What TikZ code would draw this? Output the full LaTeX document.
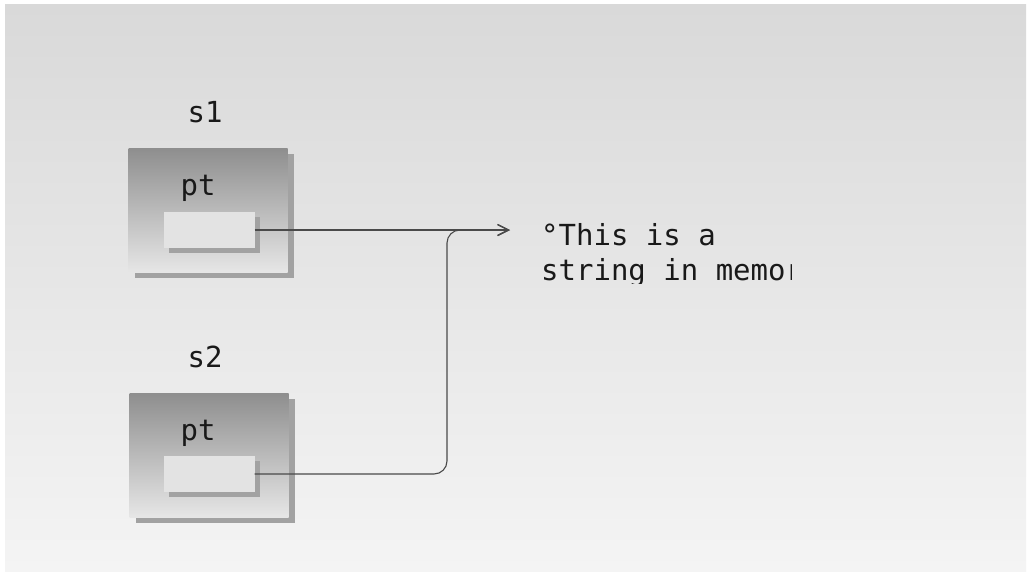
\documentclass[tikz,border=0pt]{standalone}
\usepackage{fontspec}
\setmonofont{DejaVu Sans Mono}
\usepackage{tikz}
\usetikzlibrary{arrows.meta, shadows, calc}
\definecolor{bgtop}{HTML}{D9D9D9}
\definecolor{bgbot}{HTML}{F4F4F4}
\definecolor{facetop}{HTML}{8E8E8E}
\definecolor{facebot}{HTML}{E6E6E6}
\definecolor{edge}{HTML}{A2A2A2}
\definecolor{cell}{HTML}{E3E3E3}
\definecolor{wire}{HTML}{4A4A4A}
\tikzset{
  structbox/.style={
    top color=facetop, bottom color=facebot, draw=none,
    minimum width=159pt, minimum height=124pt,
    drop shadow={shadow xshift=6pt, shadow yshift=-6pt, fill=edge, opacity=1}
  },
  ptrcell/.style={
    fill=cell, draw=none,
    minimum width=91pt, minimum height=36pt,
    drop shadow={shadow xshift=5pt, shadow yshift=-5pt, fill=edge, opacity=1}
  },
  lbl/.style={font=\fontsize{29}{35}\selectfont\ttfamily, text=black!90, inner sep=0pt},
  link/.style={draw=wire, line width=1.1pt, -{Straight Barb[length=11pt, width=11pt, line width=1.3pt]}}
}

\begin{document}
\begin{tikzpicture}[x=1pt, y=-1pt]
%% Background
\useasboundingbox (0,0) rectangle (1031,574);
\fill[white] (0,0) rectangle (1031,574);
\shade[top color=bgtop, bottom color=bgbot] (5,4) rectangle (1026,571);

%% Struct s1
\node[lbl] (s1name) at (205,112) {s1};
\node[structbox] (s1box) at (208,210) {};
\node[lbl] (s1pt) at (198,188) {pt};
\node[ptrcell] (p1) at (209,230) {};

%% Struct s2
\node[lbl] (s2name) at (205,357) {s2};
\node[structbox] (s2box) at (209,455) {};
\node[lbl] (s2pt) at (198,433) {pt};
\node[ptrcell] (p2) at (209,474) {};

%% String in memory
\node[lbl, anchor=base west] (str1) at (541,245) {°This is a};
\begin{scope}
  \clip (530,250) rectangle (791,283);
  \node[lbl, anchor=base west] (str2) at (541,280) {string in memory};
\end{scope}

%% Pointers
\coordinate (tip) at (510,230);
\coordinate (bend) at (447,230);
\draw[link] (p1.east) -- (tip);
\draw[link, rounded corners=13pt] (p2.east) -| (bend) -- (tip);
\end{tikzpicture}
\end{document}
